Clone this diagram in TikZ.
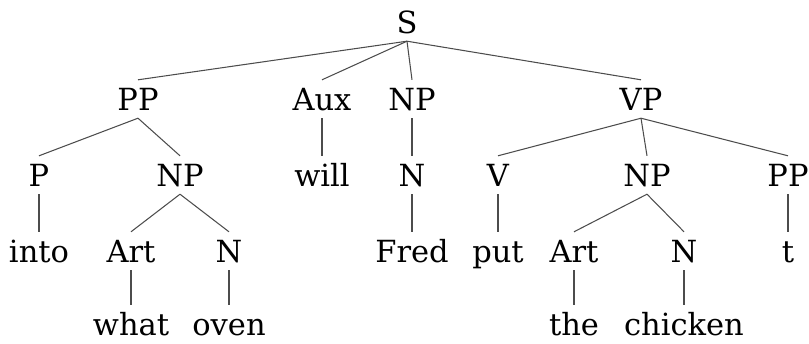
\documentclass[tikz,border=0pt]{standalone}
\usepackage{fontspec}
\setmainfont{DejaVu Serif}
\begin{document}
\begin{tikzpicture}[x=1pt,y=-1pt,
  lbl/.style={anchor=base,inner xsep=0pt,inner ysep=8pt,text height=22pt,text depth=0pt,
    font=\fontsize{30.5}{36}\selectfont},
  leaf/.style={lbl,inner ysep=0pt,text height=30pt},
  edge/.style={draw=black!70,line width=1.05pt}]
\useasboundingbox (0,0) rectangle (809,343);
% row 1
\node[lbl] (S) at (407,33) {S};
% row 2
\node[lbl] (PP1) at (138,110) {PP};
\node[lbl] (Aux) at (322,110) {Aux};
\node[lbl] (NP1) at (412,110) {NP};
\node[lbl] (VP) at (641,110) {VP};
% row 3
\node[lbl] (P) at (39,186) {P};
\node[lbl] (NP2) at (180,186) {NP};
\node[lbl] (will) at (322,186) {will};
\node[lbl] (N1) at (412,186) {N};
\node[lbl] (V) at (498,186) {V};
\node[lbl] (NP3) at (647,186) {NP};
\node[lbl] (PP2) at (788,186) {PP};
% row 4
\node[lbl] (into) at (39,262) {into};
\node[lbl] (Art1) at (131,262) {Art};
\node[lbl] (N2) at (229,262) {N};
\node[lbl] (Fred) at (412,262) {Fred};
\node[lbl] (put) at (498,262) {put};
\node[lbl] (Art2) at (574,262) {Art};
\node[lbl] (N3) at (684,262) {N};
\node[lbl] (t) at (788,262) {t};
% row 5
\node[leaf] (what) at (131,335.5) {what};
\node[leaf] (oven) at (229,335.5) {oven};
\node[leaf] (the) at (574,335.5) {the};
\node[leaf] (chicken) at (684,335.5) {chicken};
% edges
\foreach \a/\b in {S/PP1,S/Aux,S/NP1,S/VP,
  PP1/P,PP1/NP2,Aux/will,NP1/N1,VP/V,VP/NP3,VP/PP2,
  P/into,NP2/Art1,NP2/N2,N1/Fred,V/put,NP3/Art2,NP3/N3,PP2/t,
  Art1/what,N2/oven,Art2/the,N3/chicken}
  \draw[edge] (\a.south) -- (\b.north);
\end{tikzpicture}
\end{document}
